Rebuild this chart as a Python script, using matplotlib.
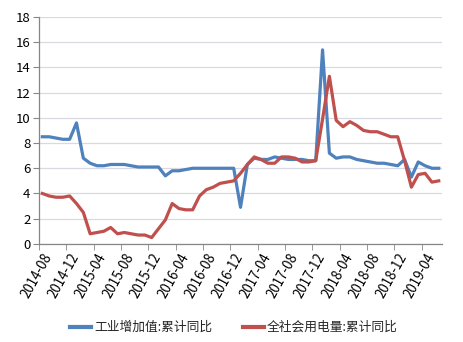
import matplotlib
matplotlib.use("Agg")
import matplotlib.pyplot as plt
import numpy as np
import pandas as pd

plt.rcParams['font.family'] = ['Noto Sans CJK SC', 'DejaVu Sans']

months = pd.date_range("2014-08-01", "2019-06-01", freq="MS").strftime("%Y-%m").tolist()

industry = [8.5, 8.5, 8.4, 8.3, 8.3, 9.6, 6.8, 6.4, 6.2, 6.2, 6.3, 6.3,
            6.3, 6.2, 6.1, 6.1, 6.1, 6.1, 5.4, 5.8, 5.8, 5.9, 6.0, 6.0,
            6.0, 6.0, 6.0, 6.0, 6.0, 2.9, 6.3, 6.8, 6.7, 6.7, 6.9, 6.8,
            6.7, 6.7, 6.7, 6.6, 6.6, 15.4, 7.2, 6.8, 6.9, 6.9, 6.7, 6.6,
            6.5, 6.4, 6.4, 6.3, 6.2, 6.7, 5.3, 6.5, 6.2, 6.0, 6.0]
power = [4.0, 3.8, 3.7, 3.7, 3.8, 3.2, 2.5, 0.8, 0.9, 1.0, 1.3, 0.8,
         0.9, 0.8, 0.7, 0.7, 0.5, 1.2, 1.9, 3.2, 2.8, 2.7, 2.7, 3.8,
         4.3, 4.5, 4.8, 4.9, 5.0, 5.6, 6.3, 6.9, 6.7, 6.4, 6.4, 6.9,
         6.9, 6.8, 6.5, 6.5, 6.6, 9.9, 13.3, 9.8, 9.3, 9.7, 9.4, 9.0,
         8.9, 8.9, 8.7, 8.5, 8.5, 6.6, 4.5, 5.5, 5.6, 4.9, 5.0]

series_names = ["工业增加值:累计同比", "全社会用电量:累计同比"]
colors = ["#4F81BD", "#C0504D"]
yticks = list(range(0, 19, 2))

fig = plt.figure(figsize=(4.63, 3.42), dpi=100)
ax = fig.add_axes([0.084, 0.287, 0.871, 0.663])

x = np.arange(len(months))
ax.plot(x, industry, color=colors[0], lw=2.3, label=series_names[0], zorder=3)
ax.plot(x, power, color=colors[1], lw=2.3, label=series_names[1], zorder=3)

ax.set_xlim(-0.5, len(months) - 0.5)
ax.set_ylim(0, 18)
ax.set_yticks(yticks)
ax.set_yticklabels([str(v) for v in yticks], fontsize=9.5)
ax.grid(axis='y', color='#D9D9E3', lw=0.9, zorder=0)
ax.set_axisbelow(True)

lab_idx = list(range(0, len(months), 4))
ax.set_xticks(lab_idx)
ax.set_xticklabels([months[i] for i in lab_idx], rotation=61, ha='right',
                   va='top', rotation_mode='anchor', fontsize=9.6)
ax.tick_params(axis='x', which='major', length=0, pad=5)
ax.set_xticks(np.arange(-0.5, len(months), 4), minor=True)
ax.tick_params(axis='x', which='minor', length=4, color='#868686', direction='out')
ax.tick_params(axis='y', length=4, color='#868686', pad=2)

for s in ['top', 'right']:
    ax.spines[s].set_visible(False)
for s in ['left', 'bottom']:
    ax.spines[s].set_color('#868686')
    ax.spines[s].set_linewidth(0.9)

leg = fig.legend(loc='center', bbox_to_anchor=(0.505, 0.042), ncol=2, frameon=False,
                 fontsize=9.2, handlelength=1.7, handletextpad=0.2, columnspacing=2.4)
for line in leg.get_lines():
    line.set_linewidth(3.0)
for t in leg.get_texts():
    t.set_color('#262626')

fig.savefig("out.png", dpi=100)
